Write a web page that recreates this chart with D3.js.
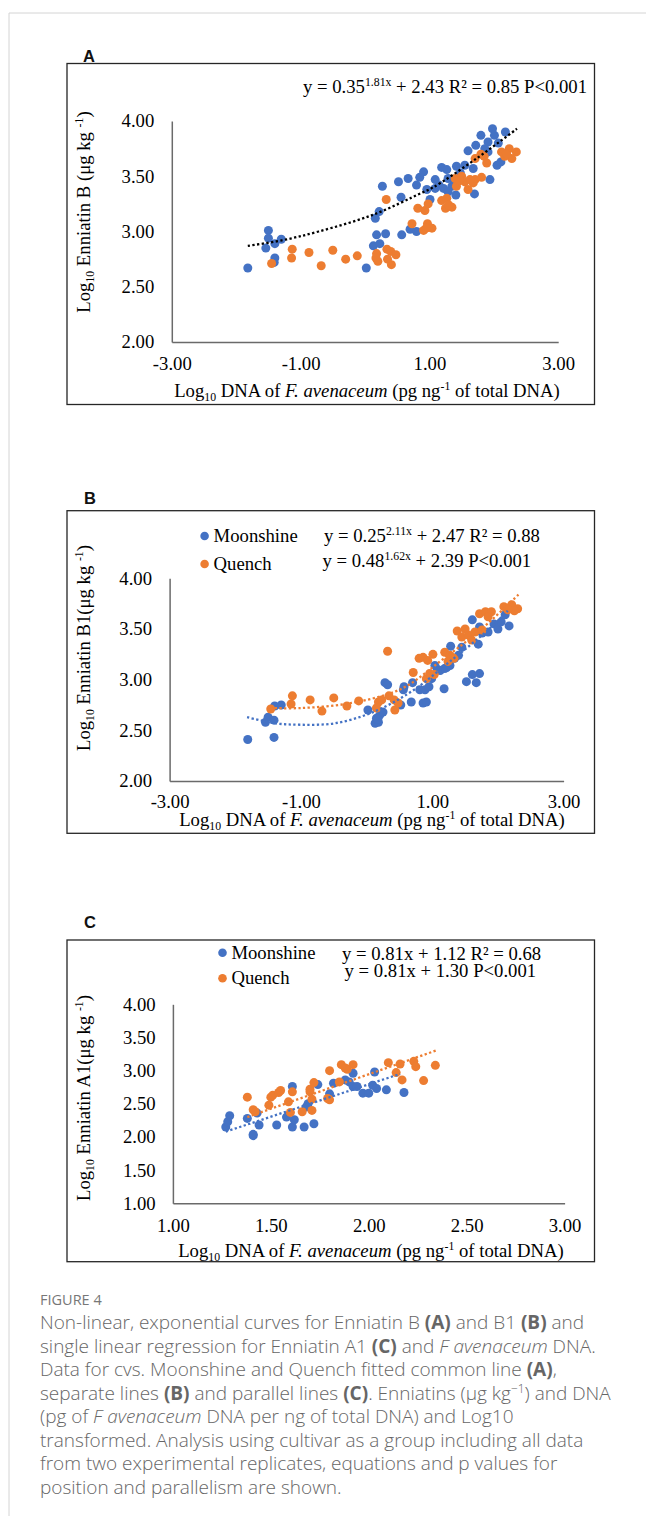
<!DOCTYPE html>
<html><head><meta charset="utf-8">
<script src="https://cdn.jsdelivr.net/npm/d3@7"></script>
<style>body{margin:0;background:#fff}svg{display:block}</style>
</head><body>
<svg id="fig" width="646" height="1516"></svg>
<script>
// ---------------- DATA ----------------
const seriesNames = ["Moonshine", "Quench"];

// Panel A: Enniatin B vs log10 DNA
const aMoonshine = [[-1.82,2.67],[-1.50,3.01],[-1.50,2.94],[-1.54,2.85],[-1.40,2.89],[-1.30,2.93],[-1.40,2.76],[-1.41,2.72],
 [0.02,2.67],[0.13,2.87],[0.23,2.89],[0.18,2.97],[0.32,2.98],[0.16,3.12],[0.22,3.18],[0.27,3.41],
 [0.56,3.31],[0.57,2.97],[0.52,3.45],[0.67,3.48],[0.80,3.42],[0.85,3.49],[0.91,3.54],[0.70,3.02],[0.80,3.00],
 [0.96,3.38],[1.01,3.29],[1.09,3.47],[1.15,3.42],[1.19,3.58],[1.27,3.56],[1.29,3.48],[1.35,3.41],[1.42,3.59],
 [1.48,3.53],[1.55,3.60],[1.41,3.33],[1.68,3.57],[1.70,3.34],[1.94,3.47],[1.60,3.73],[1.72,3.78],[1.80,3.87],
 [1.91,3.81],[1.98,3.93],[2.01,3.87],[2.07,3.80],[2.18,3.90],[2.05,3.60],[2.11,3.63],[1.91,3.72],
 [1.22,3.39],[1.09,3.39],[1.29,3.36],[1.37,3.47],[1.86,3.75]];
const aQuench = [[-1.45,2.71],[-1.14,2.76],[-1.13,2.84],[-0.87,2.81],[-0.68,2.69],[-0.50,2.83],[-0.30,2.75],[-0.12,2.78],
 [0.18,2.80],[0.20,2.73],[0.17,2.76],[0.34,2.84],[0.40,2.82],[0.48,2.79],[0.35,2.75],[0.41,2.70],
 [0.33,3.29],[0.73,3.07],[0.82,3.21],[0.93,3.19],[0.98,3.25],[0.91,3.01],[0.97,3.07],[1.04,3.03],[0.95,3.03],
 [1.19,3.28],[1.27,3.30],[1.25,3.21],[1.35,3.22],[1.30,3.24],[1.40,3.48],[1.50,3.50],[1.42,3.41],[1.60,3.38],[1.55,3.45],
 [1.71,3.47],[1.81,3.49],[1.68,3.44],[1.71,3.66],[1.85,3.68],[1.89,3.62],[1.80,3.70],
 [2.12,3.72],[2.24,3.75],[2.35,3.72],[2.28,3.66],[2.17,3.68],[2.20,3.70],[1.47,3.46],[1.63,3.47]];
const aTrendCommon = [[-1.82,2.87],[-1.29,2.92],[-0.72,3.00],[0.12,3.15],[0.88,3.35],[1.06,3.40],[1.73,3.66],[2.36,3.93]];

// Panel B: Enniatin B1 vs log10 DNA
const bMoonshine = [[-1.81,2.41],[-1.41,2.43],[-1.54,2.58],[-1.50,2.63],[-1.41,2.60],[-1.40,2.74],[-1.30,2.75],
 [0.02,2.70],[0.13,2.57],[0.18,2.58],[0.20,2.65],[0.15,2.62],[0.28,2.97],[0.32,2.95],[0.25,2.68],[0.17,2.61],
 [0.52,2.75],[0.56,2.90],[0.57,2.93],[0.68,2.78],[0.70,2.97],[0.81,2.90],[0.86,2.77],[0.91,2.78],[0.89,2.90],[0.95,2.93],[0.99,3.01],
 [1.18,2.91],[1.04,3.14],[1.12,3.09],[1.19,3.11],[1.27,3.14],[1.34,3.21],[1.40,3.24],[1.28,3.33],[1.45,3.32],
 [1.52,2.98],[1.61,3.05],[1.72,3.06],[1.67,2.97],[1.61,3.59],[1.72,3.52],[1.70,3.35],[1.76,3.46],
 [1.85,3.47],[1.94,3.55],[2.00,3.50],[2.05,3.57],[2.17,3.53],[2.11,3.64],[1.08,3.10],[1.22,3.12]];
const bQuench = [[-1.46,2.71],[-1.15,2.76],[-1.13,2.84],[-0.86,2.80],[-0.68,2.69],[-0.50,2.82],[-0.30,2.74],[-0.12,2.79],
 [0.32,3.28],[0.18,2.78],[0.15,2.72],[0.23,2.80],[0.34,2.84],[0.42,2.80],[0.43,2.70],[0.48,2.77],
 [0.71,3.07],[0.80,3.21],[0.86,3.22],[0.93,3.19],[1.01,3.25],[0.91,3.01],[0.96,3.06],[1.03,3.05],
 [1.19,3.27],[1.27,3.24],[1.24,3.18],[1.33,3.21],[1.38,3.48],[1.50,3.50],[1.45,3.42],[1.55,3.44],[1.60,3.39],[1.65,3.47],[1.76,3.49],
 [1.72,3.65],[1.81,3.67],[1.90,3.67],[1.85,3.62],[2.09,3.72],[2.21,3.74],[2.30,3.70],[2.25,3.68],[2.15,3.69]];
const bTrendMoonshine = [[-1.82,2.63],[-1.40,2.57],[-1.00,2.555],[-0.48,2.57],[0.10,2.68],[0.70,2.89],[1.29,3.19],[1.85,3.49],[2.15,3.68]];
const bTrendQuench = [[-1.47,2.72],[-0.99,2.72],[-0.23,2.77],[0.53,2.91],[1.14,3.19],[1.75,3.50],[2.33,3.85]];

// Panel C: Enniatin A1 vs log10 DNA
const cMoonshine = [[1.27,2.15],[1.28,2.23],[1.29,2.32],[1.38,2.28],[1.41,2.02],[1.41,2.04],[1.44,2.18],[1.43,2.36],[1.53,2.18],
 [1.58,2.30],[1.61,2.15],[1.62,2.26],[1.61,2.76],[1.67,2.15],[1.72,2.20],[1.69,2.50],[1.68,2.45],[1.74,2.79],[1.80,2.65],
 [1.82,2.81],[1.88,2.86],[1.90,2.83],[1.92,2.96],[1.92,2.76],[1.94,2.76],[1.97,2.66],[2.00,2.66],[2.03,2.98],[2.02,2.78],
 [2.04,2.73],[2.09,2.71],[2.18,2.67]];
const cQuench = [[1.38,2.60],[1.41,2.41],[1.42,2.38],[1.49,2.48],[1.50,2.60],[1.51,2.63],[1.54,2.67],[1.55,2.70],[1.59,2.53],
 [1.61,2.68],[1.60,2.37],[1.66,2.38],[1.71,2.40],[1.70,2.68],[1.70,2.72],[1.71,2.57],[1.72,2.82],[1.80,3.00],[1.79,2.58],
 [1.80,2.56],[1.85,2.83],[1.86,3.09],[1.89,3.02],[1.92,3.09],[1.88,3.04],[2.10,3.12],[2.16,3.10],[2.14,2.97],[2.17,2.86],
 [2.23,3.14],[2.24,3.06],[2.28,2.85],[2.34,3.08]];
const cTrendMoonshine = [[1.27,2.08],[2.16,2.95]];
const cTrendQuench = [[1.38,2.30],[2.35,3.31]];

// Tick values
const xTicksAB = [-3, -1, 1, 3];
const yTicksAB = [2, 2.5, 3, 3.5, 4];
const xTicksC = [1, 1.5, 2, 2.5, 3];
const yTicksC = [1, 1.5, 2, 2.5, 3, 3.5, 4];

// Text
const eqA = [[{t:"y = 0.35"},{t:"1.81x",sup:1},{t:" + 2.43 R² = 0.85 P<0.001"}]];
const eqB = [[{t:"y = 0.25"},{t:"2.11x",sup:1},{t:" + 2.47 R² = 0.88"}],
             [{t:"y = 0.48"},{t:"1.62x",sup:1},{t:" + 2.39 P<0.001"}]];
const eqC = [[{t:"y = 0.81x + 1.12 R² = 0.68"}],[{t:"y = 0.81x + 1.30 P<0.001"}]];
const xTitle = [{t:"Log"},{t:"10",sub:1},{t:" DNA of "},{t:"F. avenaceum",it:1},{t:" (pg ng"},{t:"-1",sup:1},{t:" of total DNA)"}];
const yTitleA = [{t:"Log"},{t:"10",sub:1},{t:" Enniatin B (μg kg "},{t:"-1",sup:1},{t:")"}];
const yTitleB = [{t:"Log"},{t:"10",sub:1},{t:" Enniatin B1(μg kg "},{t:"-1",sup:1},{t:")"}];
const yTitleC = [{t:"Log"},{t:"10",sub:1},{t:" Enniatin A1(μg kg "},{t:"-1",sup:1},{t:")"}];

const captionHead = "FIGURE 4";
const captionLines = [
 [{t:"Non-linear, exponential curves for Enniatin B "},{t:"(A)",b:1},{t:" and B1 "},{t:"(B)",b:1},{t:" and"}],
 [{t:"single linear regression for Enniatin A1 "},{t:"(C)",b:1},{t:" and "},{t:"F avenaceum",it:1},{t:" DNA."}],
 [{t:"Data for cvs. Moonshine and Quench fitted common line "},{t:"(A)",b:1},{t:","}],
 [{t:"separate lines "},{t:"(B)",b:1},{t:" and parallel lines "},{t:"(C)",b:1},{t:". Enniatins (μg kg"},{t:"−1",sup:1},{t:") and DNA"}],
 [{t:"(pg of "},{t:"F avenaceum",it:1},{t:" DNA per ng of total DNA) and Log10"}],
 [{t:"transformed. Analysis using cultivar as a group including all data"}],
 [{t:"from two experimental replicates, equations and p values for"}],
 [{t:"position and parallelism are shown."}]
];

// ---------------- DRAWING ----------------
const svg = d3.select("#fig");
const SERIF = "'Liberation Serif','Times New Roman',serif";
const FS = 18.7;
const colors = {Moonshine:"#4472C4", Quench:"#ED7D31"};
const fmt = d => d.toFixed(2);

// page frame
svg.append("line").attr("x1",9).attr("y1",13).attr("x2",646).attr("y2",13).attr("stroke","#d4d4d4").attr("stroke-width",1);
svg.append("line").attr("x1",9).attr("y1",13).attr("x2",9).attr("y2",1516).attr("stroke","#d4d4d4").attr("stroke-width",1);

function rich(textSel, parts, fs){
  let shift = 0;
  parts.forEach(p=>{
    const target = p.sup ? -fs*0.36 : p.sub ? fs*0.22 : 0;
    const ts = textSel.append("tspan").text(p.t).attr("dy", target - shift);
    shift = target;
    if(p.sup||p.sub) ts.attr("font-size", fs*0.63);
    if(p.it) ts.attr("font-style","italic");
    if(p.b) ts.attr("font-weight","bold");
  });
  return textSel;
}

function panel(cfg){
  const g = svg.append("g");
  g.append("rect").attr("x",cfg.box[0]).attr("y",cfg.box[1])
    .attr("width",cfg.box[2]-cfg.box[0]).attr("height",cfg.box[3]-cfg.box[1])
    .attr("fill","none").attr("stroke","#262626").attr("stroke-width",1.3);
  g.append("text").attr("x",cfg.label[1]).attr("y",cfg.label[2]).text(cfg.label[0])
    .attr("font-family","'Liberation Sans',Arial,sans-serif").attr("font-weight","bold").attr("font-size",16.5).attr("fill","#111");

  const x = d3.scaleLinear().domain(cfg.xd).range(cfg.xr);
  const y = d3.scaleLinear().domain(cfg.yd).range(cfg.yr);

  const yAx = g.append("g").attr("transform",`translate(${cfg.xr[0]},0)`)
    .call(d3.axisLeft(y).tickValues(cfg.yTicks).tickSize(0).tickSizeOuter(0).tickPadding(cfg.yPad).tickFormat(fmt));
  const xAx = g.append("g").attr("transform",`translate(0,${cfg.yr[0]})`)
    .call(d3.axisBottom(x).tickValues(cfg.xTicks).tickSize(0).tickSizeOuter(0).tickPadding(10).tickFormat(fmt));
  [yAx,xAx].forEach(a=>{
    a.selectAll("text").attr("font-family",SERIF).attr("font-size",FS).attr("fill","#000");
    a.select(".domain").attr("stroke","#6a6a6a").attr("stroke-width",1.5);
  });
  xAx.selectAll("text").attr("dy",null).attr("y",cfg.xLabelY - cfg.yr[0]);
  yAx.selectAll("text").attr("dy","0.32em");

  cfg.series.forEach(s=>{
    g.append("g").selectAll("circle").data(s.data).join("circle")
      .attr("cx",d=>x(d[0])).attr("cy",d=>y(d[1])).attr("r",4.5).attr("fill",colors[s.name]);
  });
  const line = d3.line().x(d=>x(d[0])).y(d=>y(d[1])).curve(d3.curveCatmullRom.alpha(0.5));
  cfg.trends.forEach(t=>{
    g.append("path").attr("d",line(t.data)).attr("fill","none").attr("stroke",t.color)
      .attr("stroke-width",2.3).attr("stroke-dasharray","2.3,2.4");
  });

  rich(g.append("text").attr("x",cfg.xTitle[0]).attr("y",cfg.xTitle[1]).attr("text-anchor","middle")
    .attr("font-family",SERIF).attr("font-size",FS).attr("fill","#000"), xTitle, FS);
  rich(g.append("text").attr("transform",`translate(${cfg.yTitle[0]},${cfg.yTitle[1]}) rotate(-90)`).attr("text-anchor","middle")
    .attr("font-family",SERIF).attr("font-size",FS).attr("fill","#000"), cfg.yTitleParts, FS);

  cfg.eqs.forEach(e=>{
    rich(g.append("text").attr("x",e.x).attr("y",e.y).attr("text-anchor",e.anchor||"start")
      .attr("font-family",SERIF).attr("font-size",FS).attr("fill","#000"), e.parts, FS);
  });

  if(cfg.legend){
    seriesNames.forEach((n,i)=>{
      const ly = cfg.legend.y[i];
      g.append("circle").attr("cx",cfg.legend.x).attr("cy",ly).attr("r",4.3).attr("fill",colors[n]);
      g.append("text").attr("x",cfg.legend.tx).attr("y",ly+6).text(n)
        .attr("font-family",SERIF).attr("font-size",FS).attr("fill","#000");
    });
  }
}

panel({
  label:["A",83,62], box:[67,63.5,594.5,404.5],
  xd:[-3,3], yd:[2,4], xr:[171.8,558.2], yr:[342,121],
  xTicks:xTicksAB, yTicks:yTicksAB, yPad:17.5, xLabelY:370,
  series:[{name:"Moonshine",data:aMoonshine},{name:"Quench",data:aQuench}],
  trends:[{data:aTrendCommon,color:"#000"}],
  xTitle:[367,397], yTitle:[90,212], yTitleParts:yTitleA,
  eqs:[{parts:eqA[0],x:587,y:93,anchor:"end"}]
});

panel({
  label:["B",84,504], box:[67,510.7,594.5,833.3],
  xd:[-3,3], yd:[2,4], xr:[169.6,563.6], yr:[781,578.3],
  xTicks:xTicksAB, yTicks:yTicksAB, yPad:17.6, xLabelY:808.3,
  series:[{name:"Moonshine",data:bMoonshine},{name:"Quench",data:bQuench}],
  trends:[{data:bTrendMoonshine,color:colors.Moonshine},{data:bTrendQuench,color:colors.Quench}],
  xTitle:[372,826], yTitle:[90,648], yTitleParts:yTitleB,
  eqs:[{parts:eqB[0],x:324,y:542},{parts:eqB[1],x:322.5,y:567}],
  legend:{x:204.6,tx:213.6,y:[536,564]}
});

panel({
  label:["C",84,928], box:[67,940,594.5,1261.7],
  xd:[1,3], yd:[1,4], xr:[172.9,564.6], yr:[1203.3,1004.3],
  xTicks:xTicksC, yTicks:yTicksC, yPad:17.2, xLabelY:1232.3,
  series:[{name:"Moonshine",data:cMoonshine},{name:"Quench",data:cQuench}],
  trends:[{data:cTrendMoonshine,color:colors.Moonshine},{data:cTrendQuench,color:colors.Quench}],
  xTitle:[371,1256.7], yTitle:[90,1098], yTitleParts:yTitleC,
  eqs:[{parts:eqC[0],x:342,y:960},{parts:eqC[1],x:344.6,y:977}],
  legend:{x:222.5,tx:231.4,y:[952.7,978.3]}
});

// caption
const CAP = "'Open Sans','Noto Sans',sans-serif";
svg.append("text").attr("x",40).attr("y",1305).text(captionHead)
  .attr("font-family",CAP).attr("font-size",14.5).attr("fill","#777");
captionLines.forEach((parts,i)=>{
  rich(svg.append("text").attr("x",40).attr("y",1329 + i*23.5)
    .attr("font-family",CAP).attr("font-size",19).attr("font-weight",300).attr("fill","#666"), parts, 19);
});
</script>
</body></html>
